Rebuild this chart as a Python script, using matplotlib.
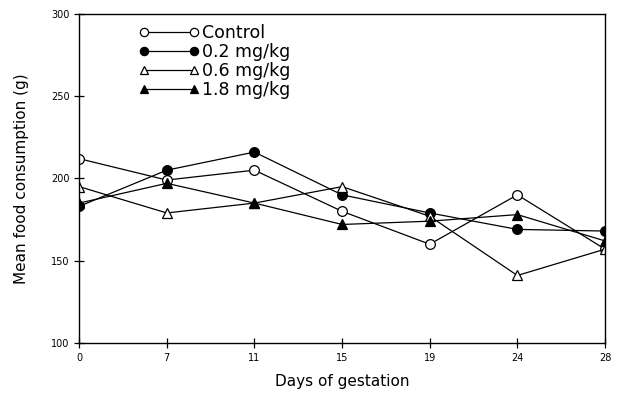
import numpy as np
import matplotlib
matplotlib.use("Agg")
import matplotlib.pyplot as plt

days = ['0', '7', '11', '15', '19', '24', '28']
control = [212, 199, 205, 180, 160, 190, 157]
dose_02 = [183, 205, 216, 190, 179, 169, 168]
dose_06 = [195, 179, 185, 195, 177, 141, 157]
dose_18 = [185, 197, 185, 172, 174, 178, 162]

series = [
    ('Control', control, 'o', 'white'),
    ('0.2 mg/kg', dose_02, 'o', 'black'),
    ('0.6 mg/kg', dose_06, '^', 'white'),
    ('1.8 mg/kg', dose_18, '^', 'black'),
]

fig = plt.figure(figsize=(6.18, 3.96), dpi=100)
ax = fig.add_axes([0.128, 0.134, 0.851, 0.831])

x = np.arange(len(days))
for name, vals, m, fc in series:
    ax.plot(x, vals, color='black', lw=0.9, marker=m, markersize=7,
            markerfacecolor=fc, markeredgecolor='black', markeredgewidth=0.9,
            label=name)

ax.set_xlim(0, len(days) - 1)
ax.set_ylim(100, 300)
ax.set_xticks(x)
ax.set_xticklabels(days)
ax.set_yticks([100, 150, 200, 250, 300])
ax.tick_params(direction='inout', length=7, width=0.9, labelsize=7)
for s in ax.spines.values():
    s.set_linewidth(1.0)

ax.set_xlabel('Days of gestation', fontsize=11, labelpad=8)
ax.set_ylabel('Mean food consumption (g)', fontsize=11, labelpad=16)

leg = ax.legend(loc='upper left', bbox_to_anchor=(0.093, 1.0), frameon=False,
                numpoints=2, handlelength=3.5, handletextpad=0.15,
                labelspacing=0.05, fontsize=12.5, borderaxespad=0.2,
                markerscale=0.85)

fig.savefig('out.png', dpi=100)
